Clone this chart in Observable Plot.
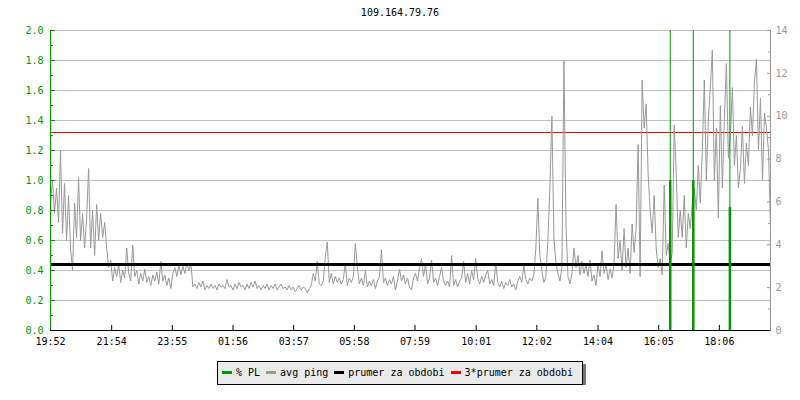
<!DOCTYPE html>
<html>
<head>
<meta charset="utf-8">
<script src="https://cdn.jsdelivr.net/npm/d3@7"></script>
<script src="https://cdn.jsdelivr.net/npm/@observablehq/plot@0.6"></script>
<style>
  body { margin: 0; background: #fff; font-family: "DejaVu Sans Mono", monospace; }
  #title { height: 26px; line-height: 26px; text-align: center; font-size: 10px; color: #000; }
  #chart svg { display: block; }
  #legendWrap { padding-left: 217px; margin-top: 7px; }
  #legend { display: inline-flex; align-items: center; height: 22px; border: 1px solid #000;
            background: #eaeaea; box-shadow: 3px 3px 0 #777; font-size: 10px; padding: 0 9px 0 4px; }
  .it { display: inline-flex; align-items: center; white-space: pre; margin-right: 6px; }
  .it:last-child { margin-right: 0; }
  .sw { display: inline-block; width: 10px; height: 3px; margin-right: 4px; }
</style>
</head>
<body>
<div id="title"></div>
<div id="chart"></div>
<div id="legendWrap"><div id="legend"></div></div>
<script>
// ---------- data ----------
const titleText = "109.164.79.76";
const startLabel = "19:52";
const sampleMinutes = 4;
// avg ping in left-axis units (one value every ~4 minutes)
const avgPing = [
  0.85,1.0,0.78,0.95,0.72, 1.2,0.65,0.98,0.6,0.9,
  0.55,0.4,0.85,0.62,1.02, 0.6,0.78,0.55,0.75,1.08,
  0.55,0.8,0.5,0.84,0.6, 0.78,0.62,0.72,0.55,0.42,
  0.47,0.33,0.42,0.36,0.44, 0.32,0.4,0.35,0.55,0.38,
  0.33,0.57,0.36,0.4,0.31, 0.38,0.33,0.41,0.32,0.36,
  0.3,0.37,0.33,0.39,0.31, 0.46,0.33,0.37,0.3,0.35,
  0.28,0.38,0.42,0.36,0.44, 0.37,0.43,0.38,0.45,0.4,
  0.45,0.29,0.31,0.28,0.32, 0.29,0.33,0.27,0.3,0.28,
  0.31,0.28,0.3,0.27,0.31, 0.29,0.3,0.28,0.34,0.29,
  0.3,0.27,0.31,0.28,0.32, 0.29,0.3,0.27,0.31,0.28,
  0.32,0.29,0.33,0.28,0.3, 0.27,0.3,0.28,0.31,0.27,
  0.3,0.28,0.31,0.27,0.29, 0.31,0.28,0.29,0.27,0.3,
  0.27,0.29,0.26,0.28,0.3, 0.27,0.29,0.28,0.25,0.28,
  0.3,0.38,0.33,0.46,0.31, 0.3,0.33,0.49,0.59,0.32,
  0.38,0.31,0.36,0.32,0.35, 0.31,0.34,0.45,0.3,0.35,
  0.32,0.36,0.58,0.42,0.31, 0.35,0.3,0.4,0.29,0.33,
  0.3,0.34,0.28,0.33,0.36, 0.54,0.32,0.35,0.3,0.34,
  0.31,0.36,0.27,0.33,0.41, 0.33,0.37,0.31,0.35,0.29,
  0.27,0.35,0.38,0.33,0.42, 0.48,0.36,0.45,0.31,0.35,
  0.47,0.32,0.35,0.3,0.36, 0.42,0.33,0.3,0.33,0.29,
  0.5,0.3,0.34,0.29,0.33, 0.35,0.46,0.32,0.38,0.31,
  0.4,0.34,0.48,0.35,0.31, 0.36,0.32,0.37,0.4,0.31,
  0.34,0.3,0.45,0.32,0.29, 0.33,0.28,0.32,0.3,0.34,
  0.29,0.31,0.27,0.33,0.36, 0.32,0.43,0.34,0.31,0.35,
  0.33,0.37,0.55,0.88,0.5, 0.4,0.32,0.36,0.6,0.95,
  1.43,0.62,0.45,0.38,0.33, 0.42,1.8,0.72,0.36,0.31,
  0.38,0.55,0.42,0.5,0.37, 0.46,0.38,0.44,0.36,0.47,
  0.33,0.37,0.3,0.44,0.36, 0.53,0.38,0.44,0.34,0.41,
  0.35,0.45,0.84,0.48,0.6, 0.4,0.68,0.42,0.55,0.38,
  0.71,0.52,0.68,1.24,0.36, 1.67,1.35,1.51,1.04,0.8,
  0.65,0.9,0.55,0.42,0.48, 0.37,0.97,0.5,0.58,0.44,
  0.52,1.37,1.05,0.62,0.8, 0.62,0.9,0.55,0.78,0.68,
  0.85,0.95,0.8,1.1,0.85, 1.2,1.67,1.0,1.4,1.62,
  1.87,1.0,1.35,0.75,1.5, 0.95,1.4,1.78,1.15,1.3,
  1.62,1.1,1.3,0.95,1.08, 1.36,0.98,1.25,1.1,1.49,
  1.3,1.66,1.81,1.2,1.55, 1.0,1.45,1.35,1.2,0.68
];
const meanPing = 0.44;         // prumer za obdobi
const meanFactor = 3;          // 3*prumer za obdobi
// packet loss events
const plTimes = ["16:28", "17:14", "18:27"];
const plPeak  = [2.0, 2.0, 2.0];
const plLow   = [1.0, 1.0, 0.82];
// axes
const xTickLabels = ["19:52","21:54","23:55","01:56","03:57","05:58","07:59","10:01","12:02","14:04","16:05","18:06"];
const leftTicks  = [0.0,0.2,0.4,0.6,0.8,1.0,1.2,1.4,1.6,1.8,2.0];
const leftMinor  = [0.1,0.3,0.5,0.7,0.9,1.1,1.3,1.5,1.7,1.9];
const rightTicks = [0,2,4,6,8,10,12,14];
const rightMinor = [1,3,5,7,9,11,13];
const rightPerLeft = 7;   // 14 on the right axis = 2.0 on the left axis
const legendItems = [
  {label: "% PL", color: "#009600"},
  {label: "avg ping", color: "#999999"},
  {label: "prumer za obdobi", color: "#000000"},
  {label: "3*prumer za obdobi", color: "#ff0000"}
];

// ---------- build ----------
const green = "#009600";
const [sh, sm] = startLabel.split(":").map(Number);
const startMin = sh * 60 + sm;
function toDate(lbl) {
  const [h, m] = lbl.split(":").map(Number);
  const day = (h * 60 + m) < startMin ? 2 : 1;
  return new Date(Date.UTC(2024, 0, day, h, m));
}
const start = toDate(startLabel);
const pingData = avgPing.map((v, i) => ({t: new Date(start.getTime() + i * sampleMinutes * 60000), v}));
const end = pingData[pingData.length - 1].t;
const plData = plTimes.map((s, i) => ({t: toDate(s), peak: plPeak[i], low: plLow[i]}));
const xTicks = xTickLabels.map(toDate);

document.getElementById("title").textContent = titleText;

const chart = Plot.plot({
  width: 800, height: 326,
  marginLeft: 50, marginRight: 30, marginTop: 4, marginBottom: 22,
  style: {fontFamily: '"DejaVu Sans Mono", monospace', fontSize: "10px", background: "#fff", overflow: "visible"},
  x: {type: "utc", domain: [start, end]},
  y: {domain: [0, 2]},
  marks: [
    Plot.gridY({ticks: leftTicks.filter(d => d > 0), stroke: "#c0c0c0", strokeOpacity: 1}),
    Plot.ruleY([meanPing * meanFactor], {stroke: "#ff0000", strokeWidth: 1}),
    Plot.line(pingData, {x: "t", y: "v", stroke: "#999999", strokeWidth: 1}),
    Plot.ruleY([meanPing], {stroke: "#000", strokeWidth: 3}),
    Plot.ruleX(plData, {x: "t", y1: 0, y2: "peak", stroke: green, strokeWidth: 1}),
    Plot.ruleX(plData, {x: "t", y1: 0, y2: "low", stroke: green, strokeWidth: 2.5}),
    // left axis
    Plot.axisY({anchor: "left", ticks: leftMinor, tickSize: -3, tickFormat: () => "", color: green, label: null}),
    Plot.axisY({anchor: "left", ticks: leftTicks, tickSize: -5, tickFormat: () => "", color: green, label: null}),
    Plot.axisY({anchor: "left", ticks: leftTicks, tickSize: 0, tickPadding: 7, tickFormat: d3.format(".1f"), color: green, label: null}),
    // right axis
    Plot.axisY({anchor: "right", ticks: rightMinor.map(v => v / rightPerLeft), tickSize: -3, tickFormat: () => "", color: "#999", label: null}),
    Plot.axisY({anchor: "right", ticks: rightTicks.map(v => v / rightPerLeft), tickSize: -4, tickFormat: () => "", color: "#999", label: null}),
    Plot.axisY({anchor: "right", ticks: rightTicks.map(v => v / rightPerLeft), tickSize: 0, tickPadding: 5,
                tickFormat: d => String(Math.round(d * rightPerLeft)), color: "#999", label: null}),
    // bottom axis
    Plot.axisX({ticks: xTicks, tickSize: -5, tickFormat: () => "", color: "#000", label: null}),
    Plot.axisX({ticks: xTicks, tickSize: 0, tickPadding: 7, tickFormat: d3.utcFormat("%H:%M"), color: "#000", label: null}),
    Plot.ruleX([start], {stroke: green}),
    Plot.ruleX([end], {stroke: "#999"}),
    Plot.ruleY([0], {stroke: "#000"})
  ]
});
document.getElementById("chart").appendChild(chart);

const legend = document.getElementById("legend");
legendItems.forEach(it => {
  const s = document.createElement("span"); s.className = "it";
  const sw = document.createElement("span"); sw.className = "sw"; sw.style.background = it.color;
  s.appendChild(sw);
  s.appendChild(document.createTextNode(it.label));
  legend.appendChild(s);
});
</script>
</body>
</html>
